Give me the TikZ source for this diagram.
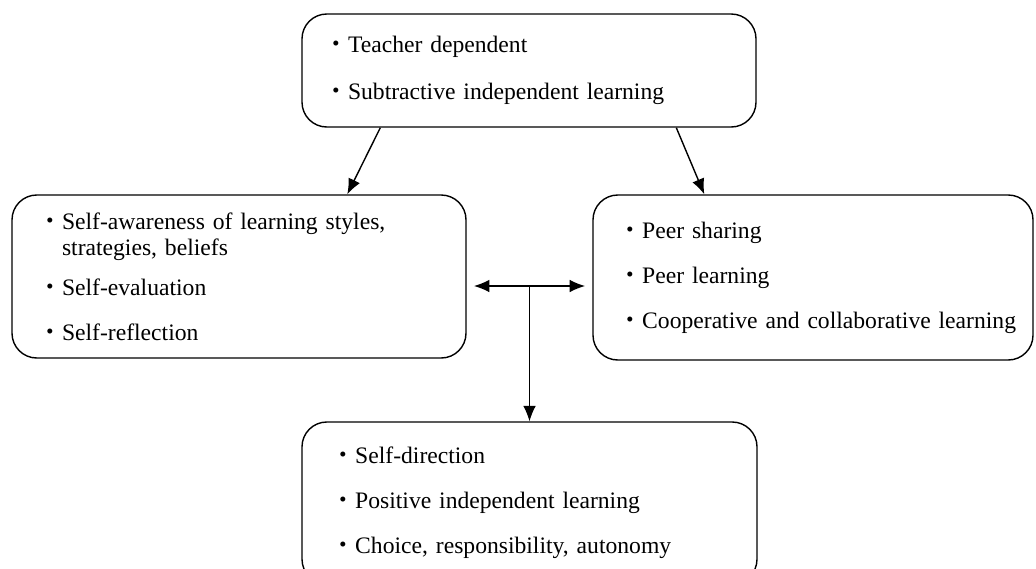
\documentclass[tikz,border=0pt]{standalone}
\usepackage{fontspec}
\setmainfont{Liberation Serif}
\newfontfamily\cjk{Noto Sans CJK JP}
\usetikzlibrary{arrows.meta}

\newcommand{\bul}[1]{\mbox{{\cjk ・}#1}}
\newcommand{\cont}[1]{\mbox{\hphantom{\cjk ・}#1}}

\begin{document}
\begin{tikzpicture}[>={Latex[length=11pt,width=9pt]}, line width=1pt,
    caixa/.style={draw, rounded corners=0.62cm, align=left, inner ysep=0pt,
        font=\fontsize{16.8}{19}\selectfont}]

    % Area total da figura
    \useasboundingbox (0,0) rectangle (25.9,-14.2);

    % --- Caixas ---

    % Caixa de cima
    \node[caixa, inner xsep=0.56cm, text width=10.23cm, minimum height=2.825cm]
        (topo) at (13.225,-1.7625)
        {\bul{Teacher dependent}\\[14pt]
         \bul{Subtractive independent learning}};

    % Caixa da esquerda
    \node[caixa, inner xsep=0.66cm, text width=10.03cm, minimum height=4.075cm]
        (esq) at (5.975,-6.9125)
        {\bul{Self-awareness of learning styles,}\\
         \cont{strategies, beliefs}\\[9pt]
         \bul{Self-evaluation}\\[13pt]
         \bul{Self-reflection}};

    % Caixa da direita
    \node[caixa, inner xsep=0.64cm, text width=9.72cm, minimum height=4.125cm]
        (dir) at (20.325,-6.9375)
        {\bul{Peer sharing}\\[13pt]
         \bul{Peer learning}\\[13pt]
         \bul{Cooperative and collaborative learning}};

    % Caixa de baixo (cortada pela borda da figura)
    \node[caixa, inner xsep=0.74cm, text width=9.895cm, minimum height=4.05cm]
        (baixo) at (13.2375,-12.575)
        {\bul{Self-direction}\\[13pt]
         \bul{Positive independent learning}\\[13pt]
         \bul{Choice, responsibility, autonomy}};

    % --- Setas ---

    % Da caixa de cima para os lados
    \draw[->] ([xshift=1.975cm]topo.south west) -- ([xshift=8.4cm]esq.north west);
    \draw[->] ([xshift=9.375cm]topo.south west) -- ([xshift=2.8cm]dir.north west);

    % Seta dupla entre as caixas do meio
    \coordinate (J) at (baixo.north |- 0,-7.15);
    \draw[<->, shorten <=0.18cm, shorten >=0.18cm] (esq.east |- J) -- (dir.west |- J);

    % Da juncao para a caixa de baixo
    \draw[->, line width=0.8pt] (J) -- (baixo.north);

\end{tikzpicture}
\end{document}
